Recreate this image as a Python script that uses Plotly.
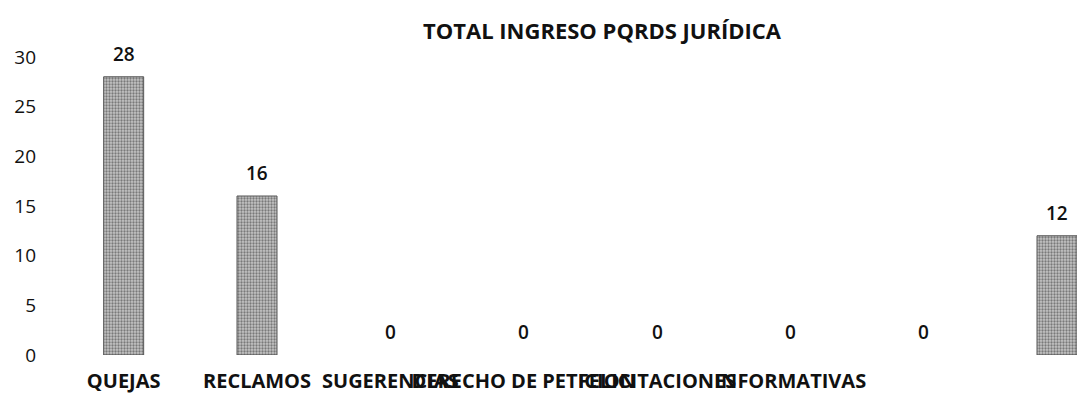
import plotly.graph_objects as go

categories = ["QUEJAS", "RECLAMOS", "SUGERENCIAS", "DERECHO DE PETICION",
              "FELICITACIONES", "INFORMATIVAS", "DENUNCIAS", "OTROS"]
tick_labels = ["QUEJAS", "RECLAMOS", "SUGERENCIAS", "DERECHO DE PETICION",
               "FELICITACIONES", "INFORMATIVAS", "", ""]
values = [28, 16, 0, 0, 0, 0, 0, 12]
y_ticks = [0, 5, 10, 15, 20, 25, 30]

fig = go.Figure()
fig.add_trace(go.Bar(
    x=categories, y=values, width=0.3,
    marker=dict(color="#a8a8a8",
                line=dict(color="#555555", width=[1 if v > 0 else 0 for v in values]),
                pattern=dict(shape=".", fgcolor="#2e2e2e", bgcolor="#c4c4c4",
                             size=3, solidity=0.45)),
    showlegend=False, hoverinfo="skip",
))

for c, v in zip(categories, values):
    fig.add_annotation(x=c, y=v, text=str(v), showarrow=False,
                       yanchor="bottom", yshift=8,
                       font=dict(family="Open Sans", size=19, color="#111", weight=600))

fig.update_layout(
    width=1077, height=401,
    margin=dict(l=57, r=0, t=41, b=46),
    paper_bgcolor="white", plot_bgcolor="white",
    title=dict(text="<b>TOTAL INGRESO PQRDS JURÍDICA</b>",
               x=602 / 1077, xanchor="center", xref="container",
               y=1 - 31 / 401, yanchor="middle", yref="container",
               font=dict(family="Open Sans", size=22, color="#111")),
    xaxis=dict(type="category", range=[-0.5, 7.15], showgrid=False, showline=False,
               zeroline=False, tickangle=0, tickmode="array",
               tickvals=categories, ticktext=tick_labels,
               ticklabelstandoff=12, automargin=False,
               tickfont=dict(family="Open Sans", size=20, color="#111", weight=700)),
    yaxis=dict(range=[0, 31.6], showgrid=False, showline=False, zeroline=False,
               tickmode="array", tickvals=y_ticks, ticklabelstandoff=20,
               automargin=False,
               tickfont=dict(family="Open Sans", size=19, color="#111")),
)

fig.write_html("out.html", config={"displayModeBar": False},
               post_script="document.body.style.margin='0';"
               "document.body.style.overflow='hidden';")
